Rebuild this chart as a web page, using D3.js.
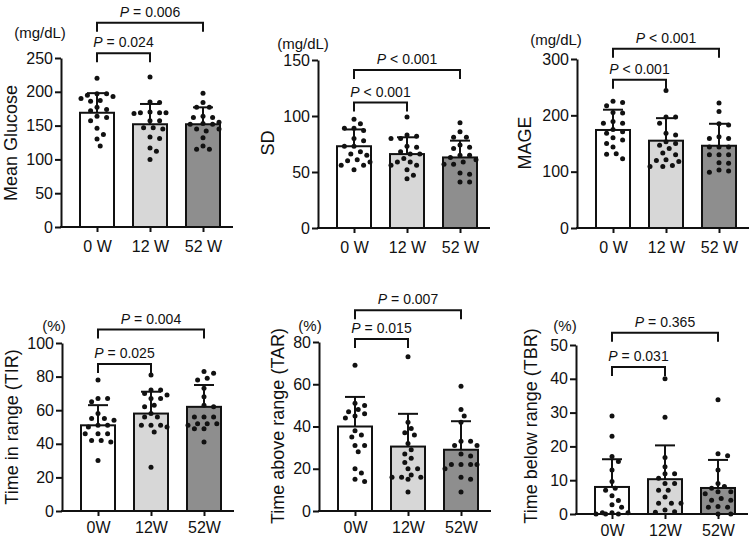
<!DOCTYPE html>
<html>
<head>
<meta charset="utf-8">
<script src="https://cdn.jsdelivr.net/npm/d3@7"></script>
<style>
  body { margin: 0; background: #fff; }
  svg { display: block; font-family: "Liberation Sans", Arial, sans-serif; }
</style>
</head>
<body>
<script>
// categories
const weeksTop = ['0 W', '12 W', '52 W'];
const weeksBottom = ['0W', '12W', '52W'];

// mean glucose (mg/dL)
const glucoseMean = [169, 152, 152];
const glucoseSD = [29, 30, 25];
const glucoseDots = [
  [220, 197, 197, 195, 193, 190, 187, 186, 177, 174, 172, 164, 162, 157, 146, 137, 130, 120],
  [222, 185, 184, 170, 169, 169, 169, 168, 157, 157, 147, 147, 145, 133, 131, 117, 112, 100],
  [198, 184, 177, 177, 164, 162, 162, 155, 153, 152, 152, 145, 145, 142, 132, 120, 115, 115]
];
const glucoseTicks = [0, 50, 100, 150, 200, 250];
const glucoseP = ['= 0.024', '= 0.006'];

// SD (mg/dL)
const sdMean = [73, 66, 63];
const sdSD = [15, 15, 15];
const sdDots = [
  [97, 93, 89, 89, 87, 80, 78, 73, 73, 68, 66, 65, 61, 60, 59, 56, 56, 52],
  [99, 83, 82, 80, 80, 73, 72, 68, 66, 66, 62, 59, 59, 56, 56, 52, 47, 44],
  [94, 86, 81, 81, 74, 72, 71, 65, 65, 63, 61, 59, 57, 57, 49, 48, 41, 41]
];
const sdTicks = [0, 50, 100, 150];
const sdP = ['< 0.001', '< 0.001'];

// MAGE (mg/dL)
const mageMean = [174, 155, 146];
const mageSD = [36, 40, 39];
const mageDots = [
  [225, 223, 217, 205, 204, 189, 186, 186, 175, 171, 168, 160, 156, 150, 144, 132, 131, 123],
  [244, 197, 197, 186, 168, 165, 153, 150, 147, 141, 133, 130, 121, 120, 118, 111, 109, 109],
  [222, 207, 185, 183, 162, 159, 159, 144, 144, 144, 130, 130, 130, 116, 115, 103, 101, 99]
];
const mageTicks = [0, 100, 200, 300];
const mageP = ['< 0.001', '< 0.001'];

// time in range (%)
const tirMean = [51, 58, 62];
const tirSD = [12, 13, 13];
const tirDots = [
  [78, 67, 67, 65, 58, 55, 55, 54, 51, 51, 50, 46, 46, 46, 42, 42, 41, 30],
  [81, 72, 72, 70, 69, 67, 67, 63, 62, 58, 56, 56, 51, 51, 51, 50, 47, 26],
  [83, 82, 79, 78, 73, 68, 63, 62, 56, 56, 56, 52, 52, 52, 51, 49, 49, 41]
];
const tirTicks = [0, 20, 40, 60, 80, 100];
const tirP = ['= 0.025', '= 0.004'];

// time above range (%)
const tarMean = [40, 30.5, 29];
const tarSD = [14, 15.5, 13.5];
const tarDots = [
  [69, 51, 50, 48, 47, 46, 45, 44, 38, 36, 35, 31, 31, 28, 20, 18, 15, 14],
  [73, 42, 39, 37, 36, 32, 29, 27, 25, 23, 20, 20, 17, 16, 16, 16, 15, 9],
  [59, 48, 45, 42, 33, 33, 31, 31, 27, 26, 22, 22, 22, 22, 20, 16, 15, 9]
];
const tarTicks = [0, 20, 40, 60, 80];
const tarP = ['= 0.015', '= 0.007'];

// time below range (%)
const tbrMean = [8, 10.3, 7.7];
const tbrSD = [8.2, 10, 8.3];
const tbrDots = [
  [29, 23, 17, 15.5, 13, 9.6, 7.6, 7, 5.4, 4, 2.7, 2, 0.4, 0.4, 0.4, 0, 0, 0],
  [40, 28.6, 16.7, 14, 11.9, 11.9, 10.6, 9, 9, 7, 7, 5, 3.2, 3.2, 3.2, 1.2, 0.7, 0.5],
  [33.8, 17.8, 17.2, 13, 9, 8.1, 7.6, 6.6, 6.6, 6, 4.6, 4.1, 4.1, 2.2, 2, 2, 0, 0]
];
const tbrTicks = [0, 10, 20, 30, 40, 50];
const tbrP = ['= 0.031', '= 0.365'];

const fills = ['#ffffff', '#d7d7d7', '#8e8e8e'];

const svg = d3.select('body').append('svg')
  .attr('width', 755)
  .attr('height', 542);

// layout of the six panels
const panels = [
  { ox: 61, top: 58, bot: 227, max: 250, ticks: glucoseTicks, cats: weeksTop, mean: glucoseMean, sd: glucoseSD, dots: glucoseDots,
    title: 'Mean Glucose', tx: 11, ty: 143, unit: '(mg/dL)', ux: 40, uy: 32, p: glucoseP, lv: [257, 302], pad: 9 },
  { ox: 318, top: 60, bot: 228, max: 150, ticks: sdTicks, cats: weeksTop, mean: sdMean, sd: sdSD, dots: sdDots,
    title: 'SD', tx: 268, ty: 143, unit: '(mg/dL)', ux: 303, uy: 43, p: sdP, lv: [112, 141], pad: 9 },
  { ox: 577, top: 59, bot: 228, max: 300, ticks: mageTicks, cats: weeksTop, mean: mageMean, sd: mageSD, dots: mageDots,
    title: 'MAGE', tx: 525, ty: 143, unit: '(mg/dL)', ux: 556, uy: 39, p: mageP, lv: [263, 318], pad: 9 },
  { ox: 62, top: 343, bot: 511, max: 100, ticks: tirTicks, cats: weeksBottom, mean: tirMean, sd: tirSD, dots: tirDots,
    title: 'Time in range (TIR)', tx: 12, ty: 427, unit: '(%)', ux: 54, uy: 325, p: tirP, lv: [87.5, 108], pad: 6 },
  { ox: 319, top: 342, bot: 511, max: 80, ticks: tarTicks, cats: weeksBottom, mean: tarMean, sd: tarSD, dots: tarDots,
    title: 'Time above range (TAR)', tx: 278, ty: 426, unit: '(%)', ux: 310, uy: 325, p: tarP, lv: [81.4, 95], pad: 6 },
  { ox: 576, top: 345, bot: 514, max: 50, ticks: tbrTicks, cats: weeksBottom, mean: tbrMean, sd: tbrSD, dots: tbrDots,
    title: 'Time below range (TBR)', tx: 531, ty: 426, unit: '(%)', ux: 565, uy: 325, p: tbrP, lv: [43.5, 53.6], pad: 6 }
];

// simple beeswarm so dots with close values spread sideways, kept inside the bar
function swarm(vals, y, half) {
  const placed = [];
  const order = vals.map((v, i) => i).sort((a, b) => vals[b] - vals[a]);
  const out = new Array(vals.length);
  const step = half / 5;
  const need = 7;
  order.forEach(i => {
    const py = y(vals[i]);
    let best = 0, bestD = -1;
    for (let k = 0; k <= 5 && bestD < need; k++) {
      for (const s of k === 0 ? [1] : [1, -1]) {
        const dx = s * k * step;
        let dmin = Infinity;
        placed.forEach(p => {
          dmin = Math.min(dmin, Math.hypot(p[0] - dx, p[1] - py));
        });
        if (dmin > bestD) { best = dx; bestD = dmin; }
        if (bestD >= need) break;
      }
    }
    placed.push([best, py]);
    out[i] = best;
  });
  return out;
}

panels.forEach(pn => {
  const g = svg.append('g');
  const y = d3.scaleLinear().domain([0, pn.max]).range([pn.bot, pn.top]);
  const x = d3.scalePoint().domain(pn.cats).range([pn.ox + 36, pn.ox + 142]);
  const bw = 34;

  // bars
  g.selectAll('.bar')
    .data(pn.mean)
    .enter().append('rect')
    .attr('x', (d, i) => x(pn.cats[i]) - bw / 2)
    .attr('y', d => y(d))
    .attr('width', bw)
    .attr('height', d => pn.bot - y(d))
    .attr('fill', (d, i) => fills[i])
    .attr('stroke', '#111')
    .attr('stroke-width', 2);

  // dots
  pn.dots.forEach((vals, i) => {
    const off = swarm(vals, y, 16);
    g.selectAll(null)
      .data(vals)
      .enter().append('circle')
      .attr('cx', (d, j) => x(pn.cats[i]) + off[j])
      .attr('cy', d => y(d))
      .attr('r', 2.5)
      .attr('fill', '#111');
  });

  // error bars (upper only)
  pn.mean.forEach((m, i) => {
    const cx = x(pn.cats[i]);
    g.append('line')
      .attr('x1', cx).attr('x2', cx)
      .attr('y1', y(m)).attr('y2', y(m + pn.sd[i]))
      .attr('stroke', '#111').attr('stroke-width', 2);
    g.append('line')
      .attr('x1', cx - 10).attr('x2', cx + 10)
      .attr('y1', y(m + pn.sd[i])).attr('y2', y(m + pn.sd[i]))
      .attr('stroke', '#111').attr('stroke-width', 2);
  });

  // axes
  const ya = g.append('g')
    .attr('transform', `translate(${pn.ox},0)`)
    .call(d3.axisLeft(y).tickValues(pn.ticks).tickSize(6).tickPadding(2).tickSizeOuter(0));
  const xa = g.append('g')
    .attr('transform', `translate(0,${pn.bot})`)
    .call(d3.axisBottom(x).tickSize(5).tickPadding(pn.pad).tickSizeOuter(0));
  xa.select('.domain').attr('d', `M${pn.ox - 1},0H${pn.ox + 172}`);
  [ya, xa].forEach(a => {
    a.selectAll('path, line').attr('stroke', '#111').attr('stroke-width', 2);
    a.selectAll('text').attr('fill', '#111').style('font-size', '16px').style('font-family', '"Liberation Sans", Arial, sans-serif');
  });

  // titles
  g.append('text')
    .attr('transform', `translate(${pn.tx},${pn.ty}) rotate(-90)`)
    .attr('text-anchor', 'middle')
    .attr('dominant-baseline', 'central')
    .style('font-size', '18px')
    .attr('fill', '#111')
    .text(pn.title);
  g.append('text')
    .attr('x', pn.ux).attr('y', pn.uy)
    .attr('text-anchor', 'middle')
    .attr('dominant-baseline', 'central')
    .style('font-size', '15px')
    .attr('fill', '#111')
    .text(pn.unit);

  // significance brackets
  pn.p.forEach((txt, k) => {
    const x1 = x(pn.cats[0]), x2 = x(pn.cats[k + 1]);
    const by = y(pn.lv[k]);
    const leg = 9;
    g.append('path')
      .attr('d', `M${x1},${by + leg}V${by}H${x2}V${by + leg}`)
      .attr('fill', 'none')
      .attr('stroke', '#111')
      .attr('stroke-width', 2);
    const t = g.append('text')
      .attr('x', (x1 + x2) / 2)
      .attr('y', by - 6)
      .attr('text-anchor', 'middle')
      .style('font-size', '14px')
      .attr('fill', '#111');
    t.append('tspan').style('font-style', 'italic').text('P');
    t.append('tspan').text(' ' + txt);
  });
});
</script>
</body>
</html>
